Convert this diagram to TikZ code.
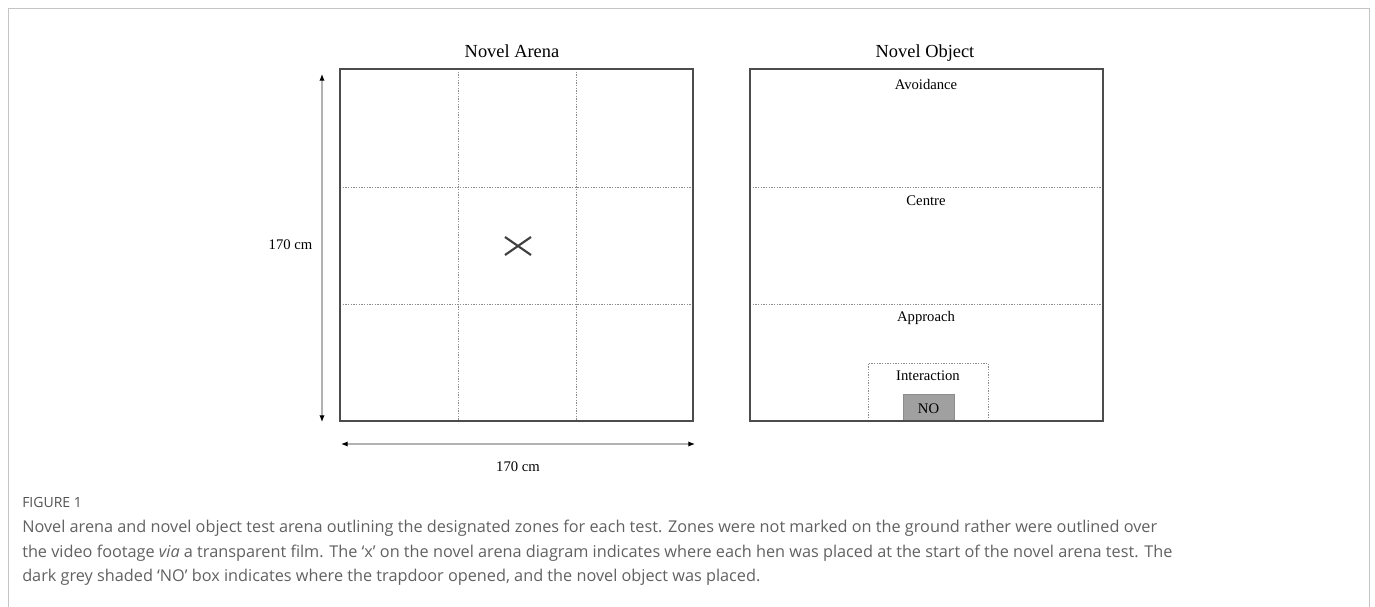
\documentclass[tikz,border=0pt]{standalone}
\usepackage{fontspec}
\setmainfont{Liberation Serif}
\newfontfamily\capfont{Open Sans}
\usetikzlibrary{arrows.meta}
\definecolor{framegray}{RGB}{196,196,196}
\definecolor{nogray}{RGB}{160,160,160}

\begin{document}
\begin{tikzpicture}[x=0.75pt,y=-0.75pt,
  wall/.style={draw=black!70,line width=1pt},
  zone/.style={draw=black!45,line width=0.5pt,dash pattern=on 1pt off 1pt},
  dim/.style={draw=black!30,line width=0.9pt,{Latex[black,length=5pt,width=4pt]}-{Latex[black,length=5pt,width=4pt]}},
  lab/.style={font=\fontsize{11}{13}\selectfont},
  ttl/.style={font=\fontsize{13.8}{16}\selectfont},
  capline/.style={anchor=west,inner sep=0pt,text=black!62,font=\capfont\fontsize{12.2}{14}\selectfont}]
\useasboundingbox (0,0) rectangle (1375,607);
\draw[framegray] (8,607) -- (8,8) -- (1369,8) -- (1369,607);

% novel arena
\node[ttl] (arenattl) at (512,51) {Novel Arena};
\coordinate (a1) at (340,69); \coordinate (a2) at (693,421);
\foreach \x in {458,576} \draw[zone] (\x,69) -- (\x,421);
\foreach \y in {187,304} \draw[zone] (340,\y) -- (693,\y);
\draw[wall] (a1) rectangle (a2);
\draw[black!75,line width=1.6pt] (505,237) -- (531,255) (505,255) -- (531,237);
\coordinate (vt) at (322,74); \coordinate (vb) at (322,422);
\draw[dim] (vt) -- (vb);
\node[lab,anchor=east] (vlab) at (317,245) {170 cm};
\coordinate (hl) at (341,444); \coordinate (hr) at (695,444);
\draw[dim] (hl) -- (hr);
\node[lab] (hlab) at (518,467) {170 cm};

% novel object
\node[ttl] (objttl) at (925,53) {Novel Object};
\coordinate (b1) at (750,69); \coordinate (b2) at (1103,421);
\foreach \y in {187,304} \draw[zone] (750,\y) -- (1103,\y);
\draw[zone] (868,421) |- (988,363) -- (988,421);
\draw[draw=black!45,fill=nogray,line width=0.6pt] (903,421) rectangle (954,394);
\node[lab] (no) at (928.5,409) {NO};
\draw[wall] (b1) rectangle (b2);
\node[lab] (avoid) at (926,84) {Avoidance};
\node[lab] (centre) at (926,201) {Centre};
\node[lab] (appr) at (926,318) {Approach};
\node[lab] (inter) at (928,376) {Interaction};

% caption
\node[capline,text=black!68,font=\capfont\fontsize{10.5}{12}\selectfont] (fig) at (22,502) {FIGURE 1};
\node[capline] (l1) at (22,528) {Novel arena and novel object test arena outlining the designated zones for each test. Zones were not marked on the ground rather were outlined over};
\node[capline] (l2) at (22,553) {the video footage \textit{via} a transparent film. The ‘x’ on the novel arena diagram indicates where each hen was placed at the start of the novel arena test. The};
\node[capline] (l3) at (22,577) {dark grey shaded ‘NO’ box indicates where the trapdoor opened, and the novel object was placed.};
\end{tikzpicture}
\end{document}
